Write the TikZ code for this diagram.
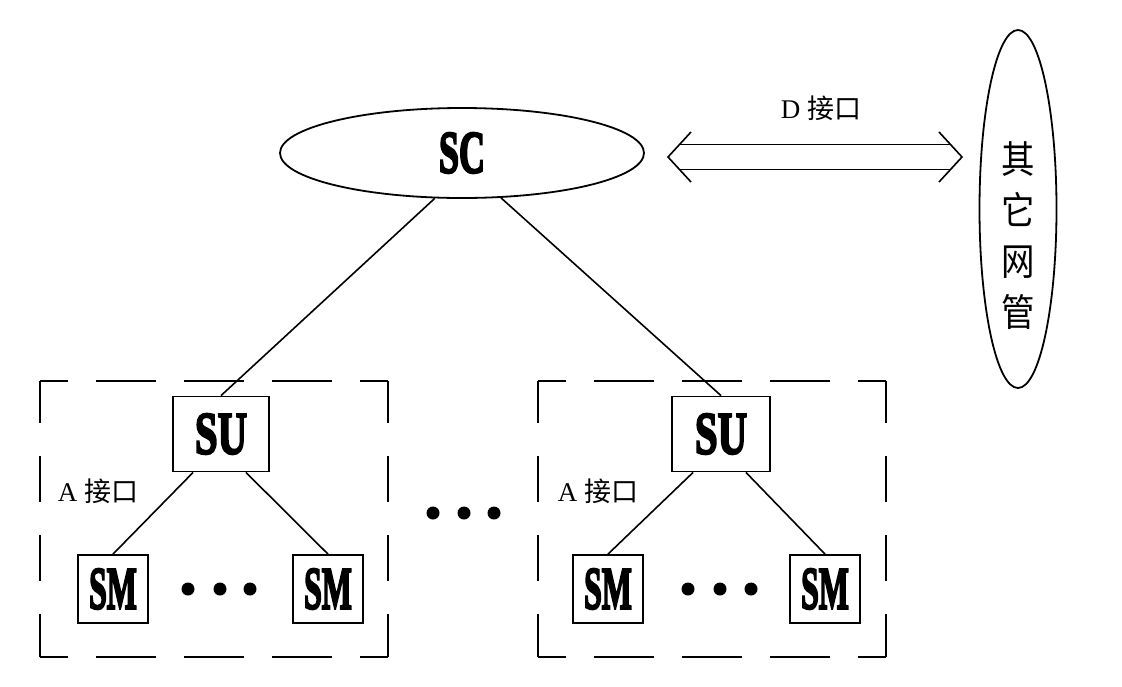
\documentclass[tikz,border=0pt]{standalone}
\usepackage{fontspec}
\usepackage{graphicx}
\usetikzlibrary{shapes.geometric}
\setmainfont{Liberation Serif}
\newfontfamily\cjk{Noto Sans CJK SC}
\newfontfamily\boldf{Liberation Serif Bold}[FakeBold=4]
\newcommand\bigtxt[2]{\scalebox{#1}[1]{\fontsize{60}{60}\selectfont\boldf #2}}
\begin{document}
\begin{tikzpicture}[x=1pt,y=-1pt,
  ell/.style={draw, ellipse, line width=1.8pt, inner sep=0pt},
  unit/.style={draw, rectangle, line width=1.8pt, inner sep=0pt},
  dbox/.style={rectangle, inner sep=0pt},
  hdash/.style={line width=1.8pt, dash pattern=on 60pt off 28pt, dash phase=32pt},
  vdash/.style={line width=1.8pt, dash pattern=on 46pt off 33pt, dash phase=3.5pt},
  conn/.style={line width=1.6pt},
  lbl/.style={inner sep=0pt, font=\fontsize{27}{27}\selectfont}
]
\useasboundingbox (0,0) rectangle (1122,686);
% top
\node[ell, minimum width=364pt, minimum height=90pt] (SC) at (462,153) {\bigtxt{0.6}{SC}};
\node[ell, minimum width=77pt, minimum height=358pt] (OT) at (1018,209) {};
\node[inner sep=0pt, align=center, font=\fontsize{38}{51}\selectfont\cjk] (OTt) at (1018,236) {\scalebox{0.88}[1]{其}\\\scalebox{0.88}[1]{它}\\\scalebox{0.88}[1]{网}\\\scalebox{0.88}[1]{管}};
% double arrow
\coordinate (dl) at (668,157);
\coordinate (dr) at (962,157);
\draw[conn, line join=miter] ([shift={(23,-25)}]dl) -- (dl) -- ([shift={(23,25)}]dl);
\draw[conn, line join=miter] ([shift={(-23,-25)}]dr) -- (dr) -- ([shift={(-23,25)}]dr);
\draw[conn] ([shift={(11,-12.5)}]dl) -- ([shift={(-11,-12.5)}]dr);
\draw[conn] ([shift={(11,12.5)}]dl) -- ([shift={(-11,12.5)}]dr);
\node[lbl] (Dl) at (821,108) {D {\cjk 接口}};
% groups
\foreach \g/\cx in {G1/214, G2/712}{
  \node[dbox, minimum width=348pt, minimum height=276pt] (\g) at (\cx,519) {};
  \draw[hdash] (\g.north west) -- (\g.north east);
  \draw[hdash] (\g.south west) -- (\g.south east);
  \draw[vdash] (\g.north west) -- (\g.south west);
  \draw[vdash] (\g.north east) -- (\g.south east);
}
\node[unit, minimum width=96pt, minimum height=75pt] (SUL) at (221,434) {\bigtxt{0.68}{SU}};
\node[unit, minimum width=98pt, minimum height=75pt] (SUR) at (721,434) {\bigtxt{0.68}{SU}};
\node[unit, minimum width=70pt, minimum height=68pt] (SM1) at (113,589) {\bigtxt{0.53}{SM}};
\node[unit, minimum width=70pt, minimum height=68pt] (SM2) at (328,589) {\bigtxt{0.53}{SM}};
\node[unit, minimum width=70pt, minimum height=68pt] (SM3) at (608,589) {\bigtxt{0.53}{SM}};
\node[unit, minimum width=70pt, minimum height=68pt] (SM4) at (825,589) {\bigtxt{0.53}{SM}};
\node[lbl] (AL) at (98,491) {A {\cjk 接口}};
\node[lbl] (AR) at (598,491) {A {\cjk 接口}};
% connectors
\draw[conn] (SC.239) -- (SUL.north);
\draw[conn] (SC.311) -- (SUR.north);
\draw[conn] (SUL.234) -- (SM1.north);
\draw[conn] (SUL.303) -- (SM2.north);
\draw[conn] (SUR.234) -- (SM3.north);
\draw[conn] (SUR.303) -- (SM4.north);
% dots
\foreach \x in {188,220,250}{\fill (\x,589) circle (6.5pt);}
\foreach \x in {688,720,751}{\fill (\x,589) circle (6.5pt);}
\foreach \x in {433,464,494}{\fill (\x,513) circle (6.5pt);}
\end{tikzpicture}
\end{document}
